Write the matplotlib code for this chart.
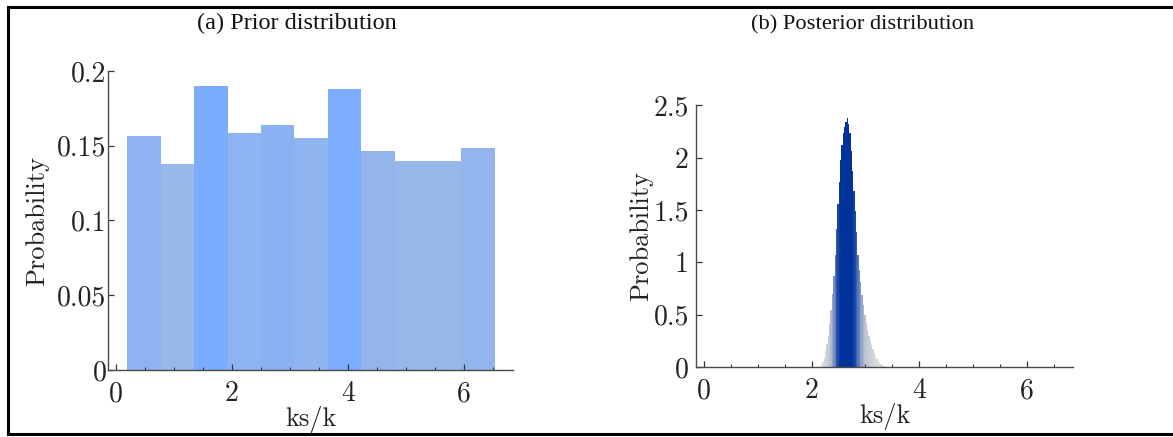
import numpy as np
import matplotlib.pyplot as plt
from matplotlib.colors import LinearSegmentedColormap
from matplotlib.ticker import MultipleLocator, FormatStrFormatter
from matplotlib.lines import Line2D

# prior histogram (11 bins)
prior_lo = 0.195
prior_hi = 6.53
prior_prob = [0.1567, 0.1380, 0.1897, 0.1585, 0.1637, 0.1552,
              0.1880, 0.1463, 0.1396, 0.1396, 0.1483]

# posterior histogram, bin width 0.025 starting at 2.15
post_lo = 2.15
post_width = 0.025
post_prob = [0.00, 0.02, 0.05, 0.09, 0.15, 0.22, 0.30, 0.41, 0.54, 0.70,
             0.87, 1.07, 1.32, 1.56, 1.77, 1.98, 2.12, 2.24, 2.29, 2.34,
             2.38, 2.32, 2.24, 2.06, 1.87, 1.68, 1.49, 1.29, 1.07, 0.93,
             0.81, 0.69, 0.59, 0.50, 0.42, 0.35, 0.30, 0.25, 0.21, 0.17,
             0.13, 0.10, 0.08, 0.06, 0.04, 0.03, 0.02, 0.01, 0.005]

plt.rcParams['font.family'] = 'cmr10'
plt.rcParams['axes.formatter.use_mathtext'] = True

W, H = 1173, 437
fig = plt.figure(figsize=(W / 100, H / 100), dpi=100)

prior_cmap = LinearSegmentedColormap.from_list('prior', ['#99b7e8', '#7badff'])
post_cmap = LinearSegmentedColormap.from_list(
    'post', ['#dcdcdc', '#bcc2d0', '#6683c2', '#2350aa', '#00349a', '#00329a'])


def style(ax, ypad):
    for s in ['top', 'right']:
        ax.spines[s].set_visible(False)
    for s in ['left', 'bottom']:
        ax.spines[s].set_color('#4a4a4a')
        ax.spines[s].set_linewidth(1.0)
    ax.tick_params(direction='in', length=4, width=0.9, color='#333333',
                   labelsize=20, labelcolor='#222222')
    ax.tick_params(axis='x', pad=8)
    ax.tick_params(axis='y', pad=ypad)
    ax.tick_params(which='minor', direction='in', length=2.5, width=0.8,
                   color='#333333')
    ax.xaxis.set_major_locator(MultipleLocator(2))
    ax.xaxis.set_minor_locator(MultipleLocator(0.5))
    ax.xaxis.set_major_formatter(FormatStrFormatter('%g'))
    ax.yaxis.set_major_formatter(FormatStrFormatter('%g'))
    ax.set_xlabel('ks/k', fontsize=19, color='#222222', labelpad=-1)


# (a) prior
ax1 = fig.add_axes([108 / W, (H - 370) / H, 405 / W, 299 / H])
edges = np.linspace(prior_lo, prior_hi, len(prior_prob) + 1)
pv = np.array(prior_prob)
cols = prior_cmap((pv - 0.138) / (0.19 - 0.138))
ax1.bar(edges[:-1], pv, width=np.diff(edges), align='edge', color=cols,
        edgecolor='none')
ax1.set_xlim(-0.138, 6.845)
ax1.set_ylim(0, 0.2)
ax1.yaxis.set_major_locator(MultipleLocator(0.05))
ax1.yaxis.set_minor_locator(MultipleLocator(0.05))
style(ax1, 1)
ax1.set_ylabel('Probability', fontsize=19, color='#222222', labelpad=6)

# (b) posterior
ax2 = fig.add_axes([695.7 / W, (H - 367) / H, 377.6 / W, 261.7 / H])
qv = np.array(post_prob)
centers = post_lo + post_width * (np.arange(len(qv)) + 0.5)
ax2.bar(centers, qv, width=post_width * 1.02, color=post_cmap(qv / qv.max()),
        edgecolor='none')
ax2.set_xlim(-0.154, 6.86)
ax2.set_ylim(0, 2.5)
ax2.yaxis.set_major_locator(MultipleLocator(0.5))
ax2.yaxis.set_minor_locator(MultipleLocator(0.5))
style(ax2, 5)
ax2.set_ylabel('Probability', fontsize=19, color='#222222', labelpad=0)

fig.text(297 / W, 1 - 23 / H, '(a) Prior distribution', ha='center',
         va='center', fontsize=17.5, family='Liberation Serif', color='#111111')
fig.text(863 / W, 1 - 25 / H, '(b) Posterior distribution', ha='center',
         va='center', fontsize=16.2, family='Liberation Serif', color='#111111')

# outer frame: top, left and bottom edges
x0, y0, y1 = 8 / W, 3 / H, 1 - 7 / H
for xs, ys in [([x0, 1], [y1, y1]), ([x0, x0], [y0, y1]), ([x0, 1], [y0, y0])]:
    fig.add_artist(Line2D(xs, ys, transform=fig.transFigure,
                          color='black', linewidth=2.2))

fig.savefig('out.png', dpi=100)
